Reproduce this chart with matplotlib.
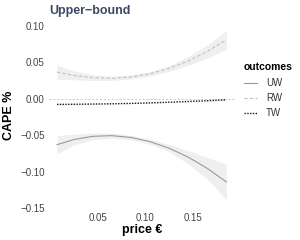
import matplotlib
matplotlib.use("Agg")
import matplotlib.pyplot as plt
import numpy as np

plt.rcParams['font.family'] = ['Liberation Sans', 'DejaVu Sans']

price = [0.0075, 0.025, 0.045, 0.065, 0.085, 0.105, 0.125, 0.145, 0.165, 0.185]

uw = [-0.063, -0.056, -0.0515, -0.0506, -0.0531, -0.0588, -0.0678, -0.080, -0.0954, -0.114]
uw_lo = [-0.0755, -0.0635, -0.056, -0.0541, -0.0561, -0.0623, -0.0728, -0.089, -0.1104, -0.138]
uw_hi = [-0.0505, -0.0485, -0.047, -0.0471, -0.0501, -0.0553, -0.0628, -0.071, -0.0804, -0.090]

rw = [0.0365, 0.032, 0.0288, 0.0280, 0.0298, 0.0342, 0.0415, 0.0517, 0.0646, 0.0806]
rw_lo = [0.0267, 0.026, 0.0248, 0.0250, 0.0270, 0.0312, 0.0375, 0.0457, 0.0556, 0.0681]
rw_hi = [0.0463, 0.038, 0.0328, 0.0310, 0.0326, 0.0372, 0.0455, 0.0577, 0.0736, 0.0931]

tw = [-0.0078, -0.0076, -0.0073, -0.0069, -0.0064, -0.0057, -0.0048, -0.0038, -0.0027, -0.0014]
tw_lo = [-0.0088, -0.0083, -0.0079, -0.0074, -0.0069, -0.0062, -0.0053, -0.0044, -0.0034, -0.0024]
tw_hi = [-0.0068, -0.0069, -0.0067, -0.0064, -0.0059, -0.0052, -0.0043, -0.0032, -0.0020, -0.0004]

labels = ['UW', 'RW', 'TW']
xticks = [0.05, 0.10, 0.15]
yticks = [-0.15, -0.10, -0.05, 0.00, 0.05, 0.10]

fig = plt.figure(figsize=(3.0, 2.4), dpi=100)
ax = fig.add_axes([0.163, 0.125, 0.62, 0.792])

ribbon = '#efefef'
ax.axhline(0, color='#c8c8c8', lw=0.7, ls=(0, (2, 2)), zorder=1)
for lo, hi in [(uw_lo, uw_hi), (rw_lo, rw_hi), (tw_lo, tw_hi)]:
    ax.fill_between(price, lo, hi, color=ribbon, lw=0, zorder=2)

l1, = ax.plot(price, uw, color='#9a9a9a', lw=0.8, ls='-', zorder=3)
l2, = ax.plot(price, rw, color='#c0c0c0', lw=0.8, ls=(0, (3, 2)), zorder=3)
l3, = ax.plot(price, tw, color='#1a1a1a', lw=1.0, ls=(0, (1, 1)), zorder=3)

ax.set_xlim(-0.001, 0.194)
ax.set_ylim(-0.1525, 0.108)
ax.set_xticks(xticks)
ax.set_xticklabels([f'{v:.2f}' for v in xticks])
ax.set_yticks(yticks)
ax.set_yticklabels([f'{v:.2f}'.replace('-', '\u2212') for v in yticks])
ax.tick_params(axis='y', length=0, labelsize=7, labelcolor='#444444', pad=3)
ax.tick_params(axis='x', length=0, labelsize=7, labelcolor='#444444', pad=2)
for s in ax.spines.values():
    s.set_visible(False)

ax.set_xlabel('price €', fontsize=9, fontweight='bold', labelpad=1)
ax.set_ylabel('CAPE %', fontsize=9, fontweight='bold', labelpad=4)
ax.set_title('Upper\u2212bound', loc='left', fontsize=9, fontweight='bold',
             color='#3b4a63', pad=4)

leg = fig.legend([l1, l2, l3], labels, title='outcomes', loc='upper left',
                 bbox_to_anchor=(0.783, 0.78), frameon=False, fontsize=7,
                 title_fontproperties={'weight': 'bold', 'size': 7.5},
                 handlelength=1.4, handletextpad=0.9, labelspacing=0.5)
leg._legend_box.align = 'left'
leg._legend_box.sep = 5
for t in leg.get_texts():
    t.set_color('#333333')

fig.savefig('out.png', dpi=100)
